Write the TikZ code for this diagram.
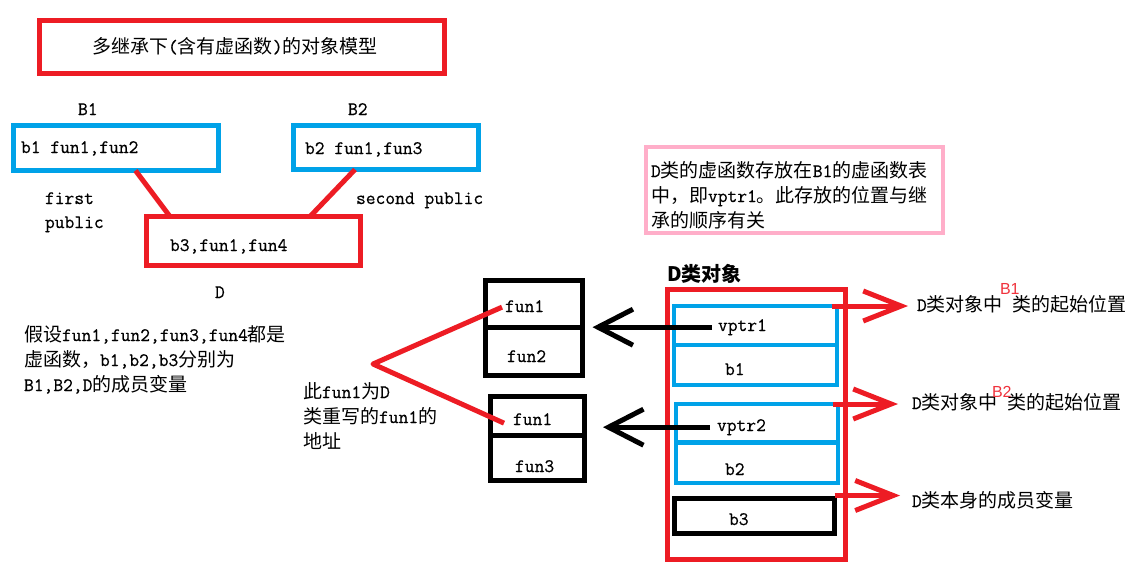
\documentclass[tikz,border=0pt]{standalone}
\usepackage{fontspec}
\setmonofont{Latin Modern Mono}[FakeBold=0.6]
\newfontfamily\cjk{Noto Sans CJK SC}
\newfontfamily\lsans{Liberation Sans}
\newcommand\zhtxt[1]{{\cjk #1}}
\usetikzlibrary{arrows.meta}
\definecolor{pred}{RGB}{237,28,36}
\definecolor{pblue}{RGB}{0,162,232}
\definecolor{ppink}{RGB}{255,174,201}
\definecolor{lred}{RGB}{240,50,60}
\begin{document}
\begin{tikzpicture}[x=1pt,y=-1pt,
  txt/.style={anchor=base west, inner sep=0pt, outer sep=0pt, font=\ttfamily\fontsize{19}{23}\selectfont},
  box/.style={draw, rectangle, inner sep=0pt, outer sep=0pt, line width=5pt},
  redbox/.style={box, draw=pred},
  bluebox/.style={box, draw=pblue, line width=4.5pt},
  blackbox/.style={box, draw=black},
  pinkbox/.style={box, draw=ppink, line width=4pt},
  redline/.style={draw=pred, line width=5pt, line join=round},
  blackarrow/.style={draw=black, line width=5pt, -{Straight Barb[length=35pt,width=36pt]}},
  redarrow/.style={draw=pred, line width=5pt, -{Straight Barb[length=38pt,width=30pt]}},
  lbl/.style={anchor=base west, inner sep=0pt, outer sep=0pt, text=lred, font=\lsans\fontsize{16}{18}\selectfont},
]
\fill[white] (0,0) rectangle (1131,576);
\useasboundingbox (0,0) rectangle (1131,576);

% title
\node[redbox, minimum width=405pt, minimum height=53pt] (title) at (242,47) {};
\node[txt] (titletxt) at (92,53) {\zhtxt{多继承下}(\zhtxt{含有虚函数})\zhtxt{的对象模型}};

% class boxes
\node[txt] (lB1) at (78,115) {B1};
\node[bluebox, minimum width=205pt, minimum height=45pt] (B1) at (116,148) {};
\node[txt] (B1t) at (21,153) {b1 fun1,fun2};
\node[txt] (lB2) at (348,115) {B2};
\node[bluebox, minimum width=185pt, minimum height=44pt] (B2) at (386,147.5) {};
\node[txt] (B2t) at (305,154) {b2 fun1,fun3};
\node[txt] (first) at (45,204) {first};
\node[txt] (public) at (45,228) {public};
\node[txt] (second) at (356,204) {second public};
\node[redbox, minimum width=214pt, minimum height=49pt] (D) at (253.5,241) {};
\node[txt] (Dt) at (170,251) {b3,fun1,fun4};
\node[txt] (lD) at (215,298) {D};
\draw[redline] ([xshift=122pt]B1.south west) -- ([xshift=23.5pt]D.north west);
\draw[redline] ([xshift=61.5pt]B2.south west) -- ([xshift=163.5pt]D.north west);

% note
\node[txt] (note1) at (24,341) {\zhtxt{假设}fun1,fun2,fun3,fun4\zhtxt{都是}};
\node[txt] (note2) at (24,366) {\zhtxt{虚函数，}b1,b2,b3\zhtxt{分别为}};
\node[txt] (note3) at (24,391) {B1,B2,D\zhtxt{的成员变量}};

% vtables
\node[blackbox, minimum width=97pt, minimum height=47pt] (vt1a) at (534,304) {};
\node[blackbox, minimum width=97pt, minimum height=48pt] (vt1b) at (534,351.5) {};
\node[txt] (vt1f1) at (505,312) {fun1};
\node[txt] (vt1f2) at (507,362) {fun2};
\node[blackbox, minimum width=94pt, minimum height=38.5pt] (vt2a) at (537.5,415.75) {};
\node[blackbox, minimum width=94pt, minimum height=45.5pt] (vt2b) at (537.5,457.75) {};
\node[txt] (vt2f1) at (513,425) {fun1};
\node[txt] (vt2f3) at (515,472) {fun3};

\node[txt] (n1) at (303,398) {\zhtxt{此}fun1\zhtxt{为}D};
\node[txt] (n2) at (303,423) {\zhtxt{类重写的}fun1\zhtxt{的}};
\node[txt] (n3) at (303,448) {\zhtxt{地址}};
\coordinate (apex) at (373,364);
\draw[redline] ([xshift=-3pt,yshift=-1pt]vt1f1.west) -- (apex) -- ([xshift=-9pt,yshift=-4pt]vt2f1.west);

% pink note
\node[pinkbox, minimum width=297pt, minimum height=86pt] (pink) at (794.5,190) {};
\node[txt] (p1) at (651,177) {D\zhtxt{类的虚函数存放在}B1\zhtxt{的虚函数表}};
\node[txt] (p2) at (651,202) {\zhtxt{中，即}vptr1\zhtxt{。此存放的位置与继}};
\node[txt] (p3) at (651,227) {\zhtxt{承的顺序有关}};

% D object
\node[txt, font=\cjk\bfseries\fontsize{20}{24}\selectfont] (dobj) at (667,281) {D类对象};
\node[redbox, minimum width=178pt, minimum height=270pt] (obj) at (756.5,424.5) {};
\node[bluebox, minimum width=163pt, minimum height=39pt] (bb1a) at (755.5,325.5) {};
\node[bluebox, minimum width=163pt, minimum height=40pt] (bb1b) at (755.5,365) {};
\node[bluebox, minimum width=162pt, minimum height=38.5pt] (bb2a) at (757,423.25) {};
\node[bluebox, minimum width=162pt, minimum height=40.5pt] (bb2b) at (757,462.75) {};
\node[blackbox, minimum width=160pt, minimum height=35pt] (b3box) at (754.5,516) {};
\node[txt] (vptr1) at (718,331) {vptr1};
\node[txt] (mb1) at (725,375) {b1};
\node[txt] (vptr2) at (717,431) {vptr2};
\node[txt] (mb2) at (725,475) {b2};
\node[txt] (mb3) at (729,525) {b3};

\draw[blackarrow] ([xshift=-6pt]vptr1.west) -- ([xshift=10pt]vt1a.south east |- vptr1.west);
\draw[blackarrow] ([xshift=-7pt]vptr2.west) -- ([xshift=18.5pt]vt2a.east |- vptr2.west);

% right labels
\node[txt] (lab1) at (917,311) {D\zhtxt{类对象中}\hspace{10pt}\zhtxt{类的起始位置}};
\node[lbl] (sup1) at (1000,294) {B1};
\node[txt] (lab2) at (912,409) {D\zhtxt{类对象中}\hspace{10pt}\zhtxt{类的起始位置}};
\node[lbl] (sup2) at (992,397) {B2};
\node[txt] (lab3) at (912,507) {D\zhtxt{类本身的成员变量}};

\draw[redarrow] ([xshift=-5pt]bb1a.north east) -- ([xshift=-9pt]lab1.west |- bb1a.north east);
\draw[redarrow] ([xshift=-5pt]bb2a.north east) -- ([xshift=-14pt]lab2.west |- bb2a.north east);
\draw[redarrow] ([yshift=3pt]b3box.north east) -- ([xshift=-12pt,yshift=3pt]lab3.west |- b3box.north east);
\end{tikzpicture}
\end{document}
